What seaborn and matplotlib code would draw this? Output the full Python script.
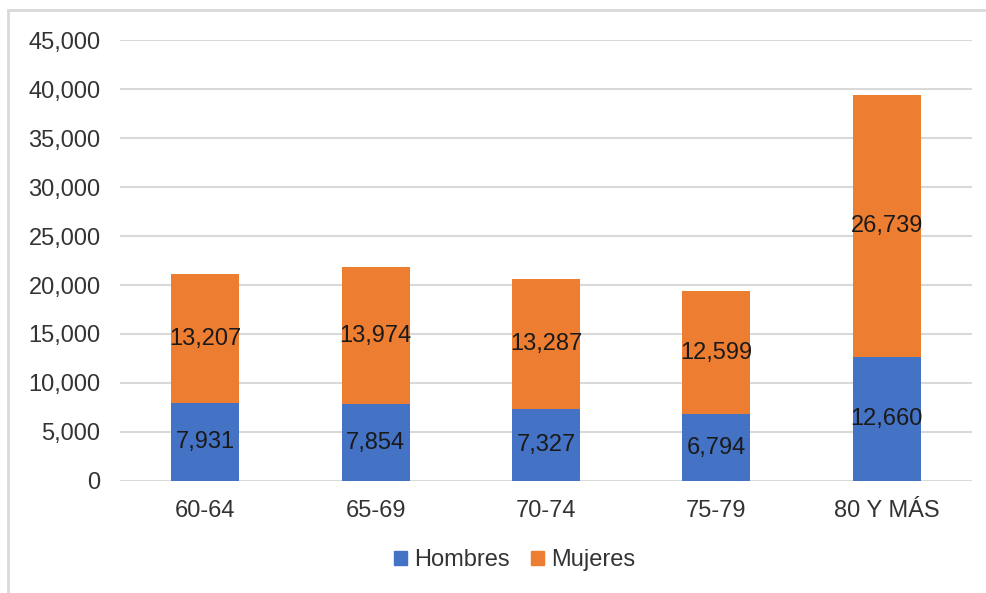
import pandas as pd
import matplotlib.pyplot as plt
import matplotlib.ticker as mtick
from matplotlib.patches import Rectangle, Patch
import seaborn as sns

grupos = ["60-64", "65-69", "70-74", "75-79", "80 Y MÁS"]
hombres = [7931, 7854, 7327, 6794, 12660]
mujeres = [13207, 13974, 13287, 12599, 26739]

azul = "#4472C4"
naranja = "#ED7D31"

df = pd.DataFrame({"grupo": grupos, "Hombres": hombres, "Mujeres": mujeres})
df["total"] = df["Hombres"] + df["Mujeres"]

sns.set_style("white")
plt.rcParams["font.family"] = ["Liberation Sans", "DejaVu Sans"]

fig = plt.figure(figsize=(9.87, 5.93), dpi=100)
ax = fig.add_axes([0.1216, 0.1889, 0.8632, 0.7436])

# apilado: total en naranja, hombres en azul encima
sns.barplot(data=df, x="grupo", y="total", color=naranja, width=0.4,
            saturation=1, linewidth=0, ax=ax, zorder=3)
sns.barplot(data=df, x="grupo", y="Hombres", color=azul, width=0.4,
            saturation=1, linewidth=0, ax=ax, zorder=4)

for i, (h, m) in enumerate(zip(hombres, mujeres)):
    ax.text(i, h / 2, f"{h:,}", ha="center", va="center", fontsize=17,
            color="#1a1a1a", zorder=5)
    ax.text(i, h + m / 2, f"{m:,}", ha="center", va="center", fontsize=17,
            color="#1a1a1a", zorder=5)

ax.set_ylim(0, 45000)
ax.set_xlim(-0.5, 4.5)
ax.yaxis.set_major_locator(mtick.MultipleLocator(5000))
ax.yaxis.set_major_formatter(mtick.StrMethodFormatter("{x:,.0f}"))
ax.grid(axis="y", color="#d9d9d9", linewidth=1.5, zorder=0)
ax.set_axisbelow(True)
for s in ax.spines.values():
    s.set_visible(False)
ax.set_xlabel("")
ax.set_ylabel("")
ax.tick_params(axis="both", length=0, labelsize=17, colors="#333333")
ax.tick_params(axis="y", pad=14)
ax.tick_params(axis="x", pad=14)

handles = [Patch(color=azul, label="Hombres"), Patch(color=naranja, label="Mujeres")]
fig.legend(handles=handles, loc="center", bbox_to_anchor=(0.521, 1 - 560 / 593),
           ncol=2, frameon=False, fontsize=17, handlelength=0.55,
           handleheight=0.55, handletextpad=0.3, columnspacing=0.9,
           labelcolor="#333333")

# borde exterior del área del gráfico
fig.patches.append(Rectangle((8 / 987, -0.1), 1.2, 1 - 10 / 593 + 0.1,
                             transform=fig.transFigure, fill=False,
                             edgecolor="#d9d9d9", linewidth=2))

fig.savefig("out.png", dpi=100)
